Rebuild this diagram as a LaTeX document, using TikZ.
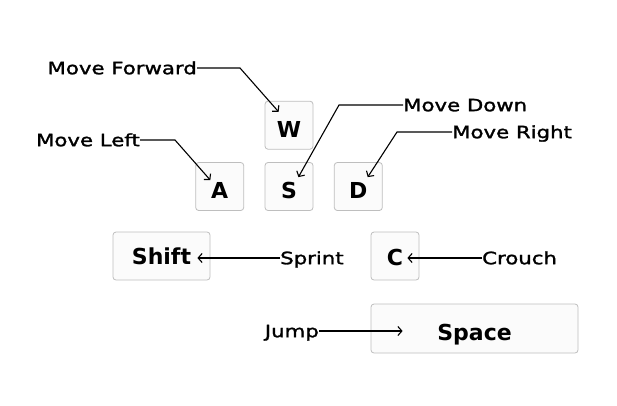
\documentclass[tikz,border=0pt]{standalone}
\usepackage{fontspec}
\newfontfamily\labelfont{DejaVu Sans}[FakeStretch=1.25,FakeBold=1.6]
\newfontfamily\keyfont{DejaVu Sans}
\definecolor{keyborder}{RGB}{190,190,190}
\definecolor{keyfill}{RGB}{251,251,251}
\usetikzlibrary{positioning,calc,arrows.meta}

\begin{document}
\begin{tikzpicture}[x=1pt,y=-1pt,
    key/.style={draw=keyborder,fill=keyfill,rounded corners=3pt,line width=0.8pt,
      minimum width=48pt,minimum height=48pt,inner sep=0pt,
      text height=24pt,text depth=0pt,
      font=\keyfont\bfseries\fontsize{22}{26}\selectfont},
    widekey/.style={key,minimum width=#1},
    action/.style={inner sep=0pt,text height=12.4pt,text depth=0pt,
      font=\labelfont\fontsize{17}{20}\selectfont},
    callout/.style={line width=1.1pt,-{Straight Barb[length=4pt,width=9pt]}},
    node distance=12.5pt and 20.5pt
    ]
    \useasboundingbox (0,0) rectangle (617,405);

    % the keys
    \node (s) [key] at (289,186.5) {S};
    \node (w) [key,above=of s] {W};
    \node (a) [key,left=of s] {A};
    \node (d) [key,right=of s] {D};
    \node (shift) [widekey=97pt,text height=16pt] at (161.5,256) {Shift};
    \node (c) [key,text height=19pt] at (395,256) {C};
    \node (space) [widekey=207pt,minimum height=49pt] at (474.5,328.5) {Space};

    % the labels
    \node (fwd) [action,anchor=east] at (197,68) {Move Forward};
    \node (left) [action,anchor=east] at (140,140) {Move Left};
    \node (down) [action,anchor=west] at (403,105) {Move Down};
    \node (right) [action,anchor=west] at (452,132) {Move Right};
    \node (sprint) [action,anchor=west] at (280,258) {Sprint};
    \node (crouch) [action,anchor=west] at (482,258) {Crouch};
    \node (jump) [action,anchor=east] at (319,331) {Jump};

    % the edges
    \draw[callout] (fwd.east) -- ++(43,0) -- ($(w.north west)+(14,11)$);
    \draw[callout] (left.east) -- ++(35,0) -- ($(a.north west)+(15,18)$);
    \draw[callout] (down.west) -- ++(-64,0) -- ($(s.north east)+(-15,15)$);
    \draw[callout] (right.west) -- ++(-55,0) -- ($(d.north east)+(-15,15)$);
    \draw[callout] (sprint.west) -- ($(shift.east)+(-13,2)$);
    \draw[callout] (crouch.west) -- ($(c.east)+(-12,2)$);
    \draw[callout] (jump.east) -- ($(space.west)+(32,2.5)$);
\end{tikzpicture}
\end{document}
